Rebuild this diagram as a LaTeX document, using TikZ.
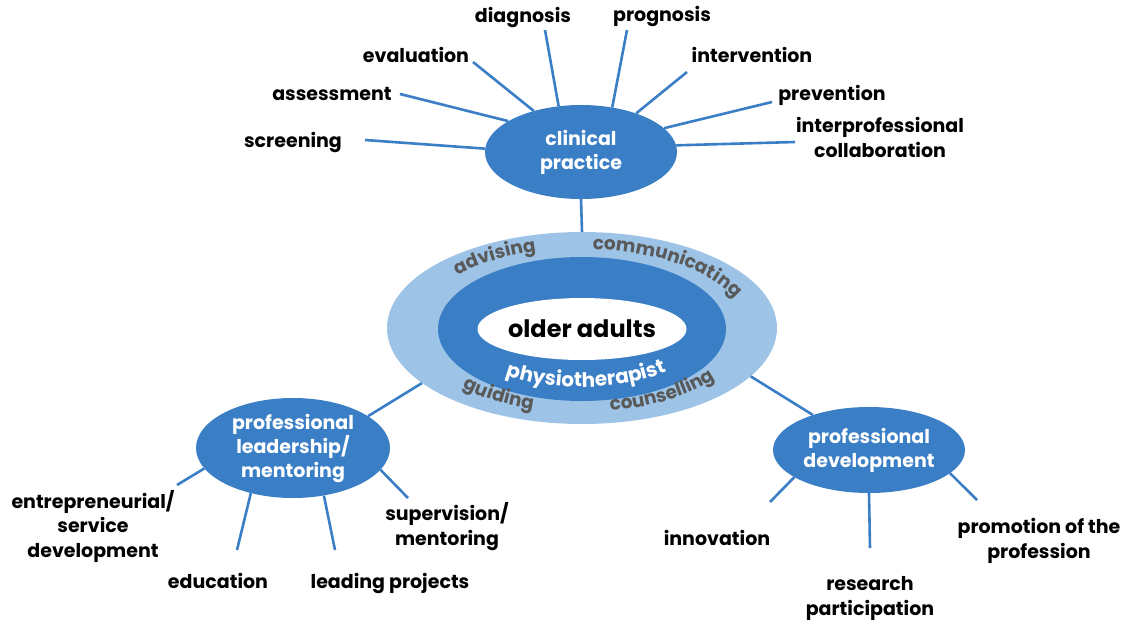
\documentclass[tikz,border=0pt]{standalone}
\usepackage{fontspec}
\setmainfont{Poppins}
\usetikzlibrary{shapes.geometric,decorations.text}
\definecolor{hubblue}{HTML}{3A7EC6}
\definecolor{ringblue}{HTML}{9DC3E6}
\definecolor{ringtext}{HTML}{595959}

\tikzset{
  hub/.style={ellipse, fill=hubblue, text=white, inner sep=0pt, align=center,
    font=\fontsize{19}{24}\selectfont\bfseries},
  leaf/.style={text=black, align=center, inner sep=0pt, anchor=base,
    font=\fontsize{19}{24.5}\selectfont\bfseries},
  spoke/.style={draw=hubblue, line width=2.6pt},
  ringword/.style={decorate, decoration={text along path, text align=center,
    text={|\fontsize{18.5}{18.5}\selectfont\bfseries\color{ringtext}|#1}}},
  innerword/.style={decorate, decoration={text along path, text align=center,
    text={|\fontsize{20}{20}\selectfont\bfseries\color{white}|#1}}},
}

\begin{document}
\begin{tikzpicture}[x=1pt, y=-1pt]
\useasboundingbox (0,0) rectangle (1136,622);

% central target: role ring, physiotherapist ring, client core
\node[ellipse, fill=ringblue, minimum width=390pt, minimum height=192pt] (outer) at (582,328) {};
\node[ellipse, fill=hubblue, minimum width=288pt, minimum height=144pt] (mid) at (582,329) {};
\node[ellipse, fill=white, minimum width=164pt, minimum height=62pt, inner sep=0pt,
      font=\fontsize{24}{24}\selectfont\bfseries] (core) at (582,329) {older adults};

% words running round the rings
\begin{scope}[shift={(582,329)}]
  \path[ringword=advising] (156:166pt and 81pt) arc[start angle=156, end angle=94, x radius=166pt, y radius=81pt];
  \path[ringword=communicating] (92:165pt and 80pt) arc[start angle=92, end angle=12, x radius=165pt, y radius=80pt];
  \path[ringword=guiding] (206:167pt and 84pt) arc[start angle=206, end angle=266, x radius=167pt, y radius=84pt];
  \path[ringword=counselling] (270:167pt and 83pt) arc[start angle=270, end angle=338, x radius=167pt, y radius=83pt];
  \path[innerword=physiotherapist] (218:125pt and 58pt) arc[start angle=218, end angle=328, x radius=125pt, y radius=58pt];
\end{scope}

% the three domains
\node[hub, minimum width=192pt, minimum height=94pt] (cp) at (581,152) {clinical\\practice};
\node[hub, minimum width=194pt, minimum height=100pt] (lead) at (293,448) {professional\\leadership/\\mentoring};
\node[hub, minimum width=192pt, minimum height=86pt] (dev) at (869,450) {professional\\development};

% links between the domains and the centre
\draw[spoke] (cp.south) -- (outer.north);
\draw[spoke] (lead.23) -- (outer.199);
\draw[spoke] (outer.344) -- (dev.148);

% clinical practice activities
\node[leaf] (screen) at (293,147) {screening};
\node[leaf] (assess) at (332,100) {assessment};
\node[leaf] (evalu) at (416,62) {evaluation};
\node[leaf] (diagn) at (523,22) {diagnosis};
\node[leaf] (progn) at (662,21) {prognosis};
\node[leaf] (interv) at (752,62) {intervention};
\node[leaf] (prevent) at (832,100) {prevention};
\node[leaf] (collab) at (880,157) {interprofessional\\collaboration};

\coordinate (e1) at (365,140);
\coordinate (e2) at (400,94);
\coordinate (e3) at (473,62);
\coordinate (e4) at (545,30);
\coordinate (e5) at (627,30);
\coordinate (e6) at (687,72);
\coordinate (e7) at (772,102);
\coordinate (e8) at (795,142);
\draw[spoke] (e1) -- (cp.178);
\draw[spoke] (e2) -- (cp.157);
\draw[spoke] (e3) -- (cp.139);
\draw[spoke] (e4) -- (cp.116);
\draw[spoke] (e5) -- (cp.55);
\draw[spoke] (e6) -- (cp.35);
\draw[spoke] (e7) -- (cp.16);
\draw[spoke] (e8) -- (cp.4);

% leadership activities
\node[leaf] (entre) at (93,557) {entrepreneurial/\\service\\development};
\node[leaf] (educ) at (218,588) {education};
\node[leaf] (projects) at (390,588) {leading projects};
\node[leaf] (superv) at (447,545) {supervision/\\mentoring};

\coordinate (l1) at (177,485);
\coordinate (l2) at (237,550);
\coordinate (l3) at (335,550);
\coordinate (l4) at (408,498);
\draw[spoke] (lead.193) -- (l1);
\draw[spoke] (lead.227) -- (l2);
\draw[spoke] (lead.303) -- (l3);
\draw[spoke] (lead.346) -- (l4);

% development activities
\node[leaf] (innov) at (717,545) {innovation};
\node[leaf] (research) at (870,615) {research\\participation};
\node[leaf] (promo) at (1039,558) {promotion of the\\profession};

\coordinate (d1) at (770,502);
\coordinate (d2) at (870,548);
\coordinate (d3) at (977,500);
\draw[spoke] (dev.200) -- (d1);
\draw[spoke] (dev.270) -- (d2);
\draw[spoke] (dev.344) -- (d3);
\end{tikzpicture}
\end{document}
